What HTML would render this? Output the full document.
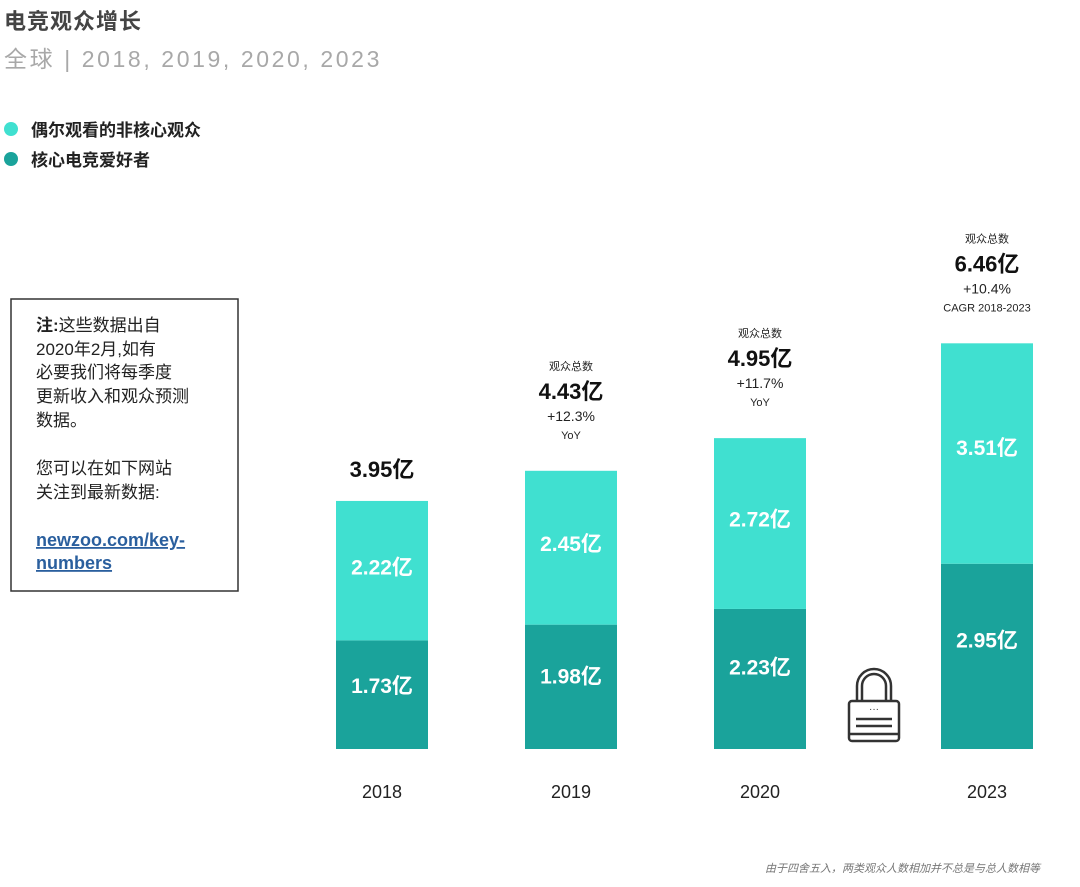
<!DOCTYPE html>
<html><head><meta charset="utf-8">
<style>
body{margin:0;background:#fff;font-family:"Liberation Sans","Noto Sans CJK SC",sans-serif;}
#root{position:relative;width:1080px;height:887px;overflow:hidden;}
svg text{font-family:"Liberation Sans","Noto Sans CJK SC",sans-serif;}
</style></head>
<body>
<div id="root">
<svg id="chart" width="1080" height="887">
<text x="4" y="29" font-size="22" font-weight="bold" fill="#444" letter-spacing="1">电竞观众增长</text>
<text x="4" y="67" font-size="23" fill="#a8a8a8" letter-spacing="2.6">全球 | 2018, 2019, 2020, 2023</text>
<g>
<circle cx="11" cy="129" r="7" fill="#40e0d0"/>
<text x="31" y="136" font-size="17" font-weight="bold" fill="#222">偶尔观看的非核心观众</text>
<circle cx="11" cy="159" r="7" fill="#1aa39b"/>
<text x="31" y="166" font-size="17" font-weight="bold" fill="#222">核心电竞爱好者</text>
</g>
<g>
<rect x="11" y="299" width="227" height="292" fill="#fff" stroke="#333" stroke-width="1.5"/>
<text font-size="17" fill="#222">
<tspan x="36" y="331"><tspan font-weight="bold">注:</tspan>这些数据出自</tspan>
<tspan x="36" y="355">2020年2月,如有</tspan>
<tspan x="36" y="378">必要我们将每季度</tspan>
<tspan x="36" y="402">更新收入和观众预测</tspan>
<tspan x="36" y="426">数据。</tspan>
<tspan x="36" y="474">您可以在如下网站</tspan>
<tspan x="36" y="498">关注到最新数据:</tspan>
</text>
<text font-size="18" font-weight="bold" fill="#2a5f9e" text-decoration="underline"><tspan x="36" y="546">newzoo.com/key-</tspan><tspan x="36" y="569">numbers</tspan></text>
</g>
<g id="bars"></g>
<g fill="none" stroke="#333" stroke-width="2.5">
<path d="M857 702 V686 a17 17 0 0 1 34 0 V702"/>
<path d="M862 702 V686 a12 12 0 0 1 24 0 V702"/>
<rect x="849" y="701" width="50" height="40" rx="3"/>
<line x1="849" y1="734" x2="899" y2="734"/>
<line x1="856" y1="719" x2="892" y2="719"/>
<line x1="856" y1="726" x2="892" y2="726"/>
<text x="874" y="712" font-size="10" fill="#333" stroke="none" text-anchor="middle">···</text>
</g>
<text x="1040" y="872" font-size="11" font-style="italic" fill="#777" text-anchor="end">由于四舍五入，两类观众人数相加并不总是与总人数相等</text>
</svg>
</div>
<script>
const years = ["2018","2019","2020","2023"];
const coreValues = [1.73, 1.98, 2.23, 2.95];
const casualValues = [2.22, 2.45, 2.72, 3.51];
const totalValues = [3.95, 4.43, 4.95, 6.46];
const growthLabels = ["", "+12.3%", "+11.7%", "+10.4%"];
const growthNotes = ["", "YoY", "YoY", "CAGR 2018-2023"];

const NS = "http://www.w3.org/2000/svg";
const g = document.getElementById("bars");
const baseY = 749, pxPerUnit = 62.8, barW = 92;
const centers = [382, 571, 760, 987];
function y(v){ return baseY - v * pxPerUnit; }
function mk(tag, attrs, txt){
  const e = document.createElementNS(NS, tag);
  for (const k in attrs) e.setAttribute(k, attrs[k]);
  if (txt !== undefined) e.textContent = txt;
  g.appendChild(e); return e;
}
years.forEach((yr, i) => {
  const cx = centers[i], x = cx - barW/2;
  const core = coreValues[i], cas = casualValues[i];
  const total = Math.max(totalValues[i], core + cas);
  const r1 = mk("rect", {x: x, y: y(core), width: barW, height: core*pxPerUnit, fill: "#1aa39b"});
  
  
  const casTop = y(total);
  const r2 = mk("rect", {x: x, y: casTop, width: barW, height: y(core) - casTop, fill: "#40e0d0"});
  
  
  const coreH = baseY - y(core), casH = y(core) - casTop;
  const t1 = mk("text", {x: cx, y: y(core) + 0.41*coreH + 8, "font-size": 21, "font-weight": "bold", fill: "#fff", "text-anchor": "middle"}, core.toFixed(2) + "亿");
  
  
  const t2 = mk("text", {x: cx, y: casTop + 0.47*casH + 8, "font-size": 21, "font-weight": "bold", fill: "#fff", "text-anchor": "middle"}, cas.toFixed(2) + "亿");
  
  
  const yl = mk("text", {x: cx, y: 798, "font-size": 18, fill: "#222", "text-anchor": "middle"}, yr);
  
  
  if (growthLabels[i]) {
    const h1 = mk("text", {x: cx, y: casTop - 101, "font-size": 11, fill: "#222", "text-anchor": "middle"}, "观众总数");
    
    
    const tt = mk("text", {x: cx, y: casTop - 72, "font-size": 22, "font-weight": "bold", fill: "#111", "text-anchor": "middle"}, totalValues[i].toFixed(2) + "亿");
    
    
    const gr = mk("text", {x: cx, y: casTop - 50, "font-size": 14, fill: "#222", "text-anchor": "middle"}, growthLabels[i]);
    
    
    const gn = mk("text", {x: cx, y: casTop - 32, "font-size": 11, fill: "#222", "text-anchor": "middle"}, growthNotes[i]);
    
    
  } else {
    const tt = mk("text", {x: cx, y: casTop - 24, "font-size": 22, "font-weight": "bold", fill: "#111", "text-anchor": "middle"}, totalValues[i].toFixed(2) + "亿");
    
    
  }
});
</script>
</body></html>
